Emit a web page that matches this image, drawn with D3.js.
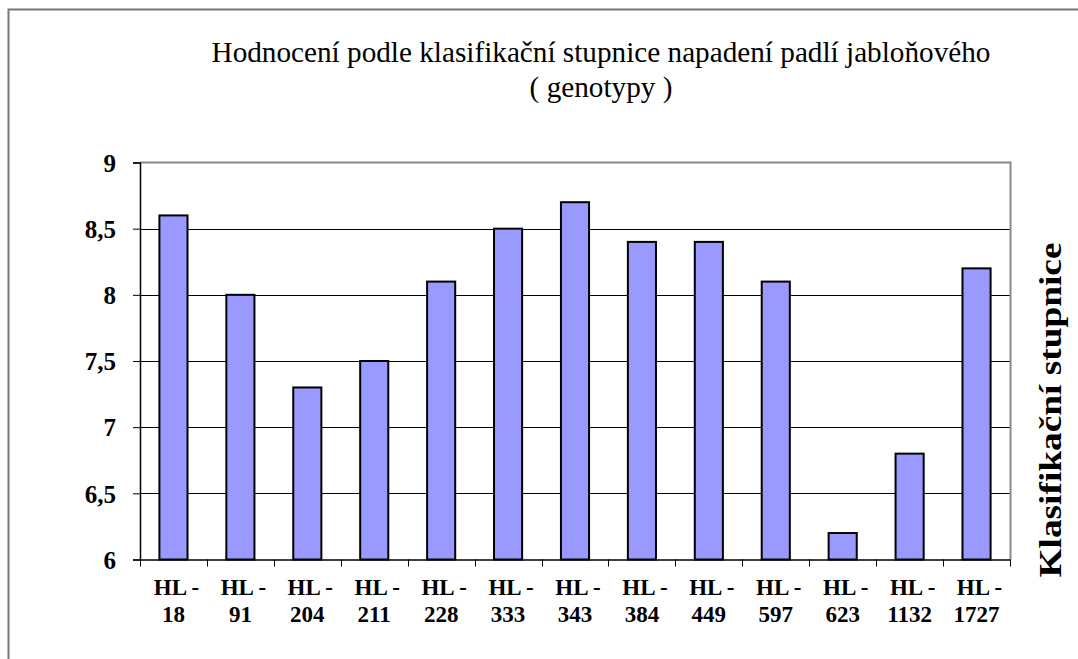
<!DOCTYPE html>
<html>
<head>
<meta charset="utf-8">
<script src="https://cdn.jsdelivr.net/npm/d3@7"></script>
<style>
  body { margin: 0; background: #fff; }
  svg { display: block; }
</style>
</head>
<body>
<div id="chart"></div>
<script>
const categories = ["HL - 18", "HL - 91", "HL - 204", "HL - 211", "HL - 228", "HL - 333", "HL - 343",
  "HL - 384", "HL - 449", "HL - 597", "HL - 623", "HL - 1132", "HL - 1727"];
const values = [8.6, 8.0, 7.3, 7.5, 8.1, 8.5, 8.7, 8.4, 8.4, 8.1, 6.2, 6.8, 8.2];
const yTicks = [6, 6.5, 7, 7.5, 8, 8.5, 9];
const titleLines = ["Hodnocení podle klasifikační stupnice napadení padlí jabloňového", "( genotypy )"];
const axisTitle = "Klasifikační stupnice";

const serif = "'Liberation Serif', 'Times New Roman', Times, serif";
const width = 1078, height = 659;
const margin = { top: 162.5, right: 68, bottom: 100, left: 140 };

const svg = d3.select("#chart").append("svg")
  .attr("width", width)
  .attr("height", height);

// outer frame
svg.append("rect")
  .attr("x", 8.5).attr("y", 9.5)
  .attr("width", width).attr("height", height)
  .attr("fill", "none").attr("stroke", "#777").attr("stroke-width", 2);

const x = d3.scaleBand()
  .domain(categories)
  .range([margin.left, width - margin.right])
  .paddingInner(0.58).paddingOuter(0.29);

const y = d3.scaleLinear()
  .domain([6, 9])
  .range([559.5, margin.top]);

// gridlines
svg.append("g")
  .selectAll("line")
  .data(yTicks.filter(t => t > 6 && t < 9))
  .join("line")
  .attr("x1", margin.left).attr("x2", width - margin.right)
  .attr("y1", d => Math.round(y(d)) + 0.5).attr("y2", d => Math.round(y(d)) + 0.5)
  .attr("stroke", "#000");

// plot border top/right (gray)
svg.append("path")
  .attr("d", `M${margin.left},${y(9)}H${width - margin.right + 0.5}V${y(6)}`)
  .attr("fill", "none").attr("stroke", "#888").attr("stroke-width", 2);

// bars
svg.append("g")
  .selectAll("rect")
  .data(values)
  .join("rect")
  .attr("x", (d, i) => x(categories[i]))
  .attr("y", d => y(d))
  .attr("width", x.bandwidth())
  .attr("height", d => y(6) - y(d))
  .attr("fill", "#9999FF")
  .attr("stroke", "#000")
  .attr("stroke-width", 2);

// y axis
const yAxis = svg.append("g")
  .attr("transform", `translate(${margin.left},0)`)
  .call(d3.axisLeft(y).tickValues(yTicks).tickSize(7).tickPadding(17)
    .tickFormat(d => String(d).replace(".", ",")))
  .attr("font-family", serif)
  .attr("font-size", 25)
  .attr("font-weight", "bold");
yAxis.select(".domain").attr("stroke", "#000").attr("stroke-width", 1.5);
yAxis.selectAll(".tick line").attr("stroke", "#000");
yAxis.selectAll(".tick text").attr("fill", "#000").attr("dy", "0.35em");

// x axis
const step = x.step();
const xAxis = svg.append("g")
  .attr("transform", `translate(0,${y(6)})`)
  .call(d3.axisBottom(x).tickSize(0).tickFormat(""));
xAxis.select(".domain").attr("stroke", "#000").attr("stroke-width", 1.5);
xAxis.selectAll(".tick text").remove();

// category boundary ticks
svg.append("g")
  .selectAll("line")
  .data(d3.range(categories.length + 1))
  .join("line")
  .attr("x1", i => Math.round(margin.left + i * step) + 0.5)
  .attr("x2", i => Math.round(margin.left + i * step) + 0.5)
  .attr("y1", y(6)).attr("y2", y(6) + 7)
  .attr("stroke", "#000");

// category labels on two lines
const labels = svg.append("g")
  .attr("font-family", serif)
  .attr("font-weight", "bold").attr("font-size", 23)
  .attr("text-anchor", "middle").attr("fill", "#000")
  .selectAll("text")
  .data(categories)
  .join("text")
  .attr("transform", d => `translate(${x(d) + x.bandwidth() / 2 + 3},595)`);
labels.append("tspan").attr("x", 0).attr("y", 0).text(d => d.split(" - ")[0] + " -");
labels.append("tspan").attr("x", -3).attr("y", 27).text(d => d.split(" - ")[1]);

// title (slightly condensed like the original)
const title = svg.append("g")
  .attr("font-family", serif).attr("font-size", 30)
  .attr("text-anchor", "middle").attr("fill", "#000");
const t1 = title.append("text")
  .attr("x", 0).attr("y", 62)
  .text(titleLines[0]);
const sx = 779 / t1.node().getComputedTextLength();
t1.attr("transform", `translate(601,0) scale(${sx},1)`);
title.append("text")
  .attr("x", 0).attr("y", 97)
  .attr("transform", `translate(601,0) scale(${sx},1)`)
  .text(titleLines[1]);

// right axis title
svg.append("text")
  .attr("transform", "translate(1061,410) rotate(-90)")
  .attr("font-family", serif)
  .attr("font-weight", "bold").attr("font-size", 32)
  .attr("text-anchor", "middle").attr("fill", "#000")
  .attr("textLength", 335).attr("lengthAdjust", "spacingAndGlyphs")
  .text(axisTitle);
</script>
</body>
</html>
